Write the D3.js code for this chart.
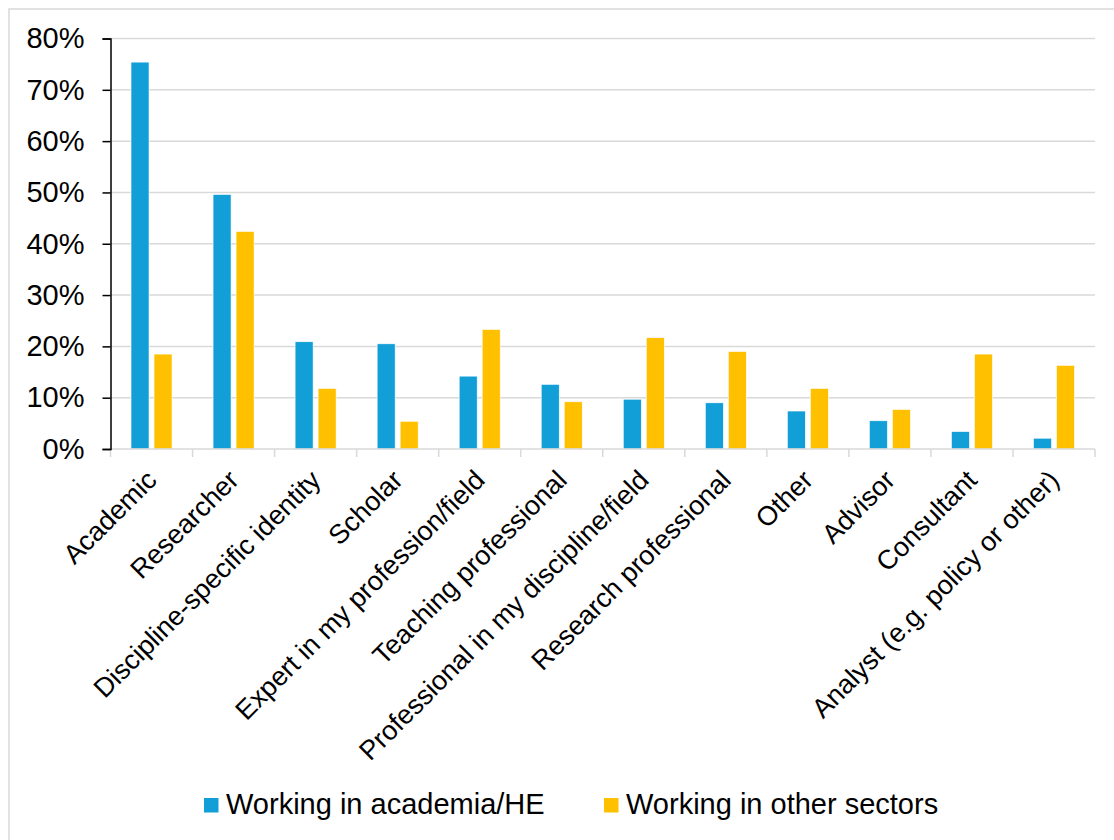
<!DOCTYPE html>
<html>
<head>
<meta charset="utf-8">
<script src="https://cdn.jsdelivr.net/npm/d3@7"></script>
<style>
  html, body { margin: 0; padding: 0; background: #ffffff; }
  svg { display: block; font-family: "Liberation Sans", Arial, sans-serif; }
</style>
</head>
<body>
<svg id="chart" width="1114" height="840"></svg>
<script>
// Professional identity by sector (% of respondents)
const categories = [
  "Academic",
  "Researcher",
  "Discipline-specific identity",
  "Scholar",
  "Expert in my profession/field",
  "Teaching professional",
  "Professional in my discipline/field",
  "Research professional",
  "Other",
  "Advisor",
  "Consultant",
  "Analyst (e.g. policy or other)"
];
const seriesNames = ["Working in academia/HE", "Working in other sectors"];
const academiaValues = [75.4, 49.6, 20.9, 20.5, 14.2, 12.6, 9.7, 9.0, 7.4, 5.5, 3.4, 2.1];
const otherValues    = [18.5, 42.4, 11.8, 5.4, 23.3, 9.2, 21.7, 19.0, 11.8, 7.7, 18.5, 16.3];
const yTicks = [0, 10, 20, 30, 40, 50, 60, 70, 80];

const colors = ["#129FD7", "#FFC000"];
const seriesValues = [academiaValues, otherValues];

const svg = d3.select("#chart");

// outer chart frame
svg.append("rect")
  .attr("x", 9).attr("y", 9)
  .attr("width", 1300).attr("height", 1000)
  .attr("fill", "none")
  .attr("stroke", "#d9d9d9")
  .attr("stroke-width", 1.5);

const plot = { left: 110.5, right: 1095, top: 38.5, bottom: 449 };

const x0 = d3.scaleBand()
  .domain(categories)
  .range([plot.left, plot.right])
  .paddingInner(0).paddingOuter(0);

const bw = x0.bandwidth();
const x1 = d3.scaleBand()
  .domain(seriesNames)
  .range([bw * 0.25, bw * 0.75])
  .paddingInner(5 / 23).paddingOuter(0);

const y = d3.scaleLinear()
  .domain([0, 80])
  .range([plot.bottom, plot.top]);

// horizontal gridlines
svg.append("g")
  .selectAll("line")
  .data(yTicks.filter(d => d > 0))
  .join("line")
  .attr("x1", plot.left).attr("x2", plot.right)
  .attr("y1", d => y(d)).attr("y2", d => y(d))
  .attr("stroke", "#d9d9d9")
  .attr("stroke-width", 1.5);

// bars
const rows = categories.map((c, i) => ({
  category: c,
  values: seriesNames.map((s, j) => ({ series: s, value: seriesValues[j][i], color: colors[j] }))
}));

const groups = svg.append("g")
  .selectAll("g")
  .data(rows)
  .join("g")
  .attr("transform", d => `translate(${x0(d.category)},0)`);

groups.selectAll("rect")
  .data(d => d.values)
  .join("rect")
  .attr("x", d => x1(d.series))
  .attr("width", x1.bandwidth())
  .attr("y", d => y(d.value))
  .attr("height", d => y(0) - y(d.value))
  .attr("fill", d => d.color)
  .attr("stroke", "#ffffff")
  .attr("stroke-width", 0.6);

// x axis: category boundary ticks and baseline
const xAxisG = svg.append("g");
xAxisG.append("line")
  .attr("x1", plot.left).attr("x2", plot.right)
  .attr("y1", y(0)).attr("y2", y(0))
  .attr("stroke", "#d9d9d9").attr("stroke-width", 1.5);
const boundaries = categories.map(c => x0(c)).concat([plot.right]);
xAxisG.selectAll("line.tick")
  .data(boundaries)
  .join("line")
  .attr("class", "tick")
  .attr("x1", d => d).attr("x2", d => d)
  .attr("y1", y(0)).attr("y2", y(0) + 8)
  .attr("stroke", "#d9d9d9").attr("stroke-width", 1.5);

// rotated category labels
xAxisG.selectAll("text")
  .data(categories)
  .join("text")
  .attr("transform", d => `translate(${x0(d) + bw / 2},${y(0) + 26}) rotate(-45)`)
  .attr("text-anchor", "end")
  .attr("dy", "0.35em")
  .attr("font-size", 27)
  .attr("fill", "#000000")
  .text(d => d);

// y axis
const yAxis = d3.axisLeft(y)
  .tickValues(yTicks)
  .tickSize(8)
  .tickPadding(18)
  .tickFormat(d => d + "%");

const yAxisG = svg.append("g")
  .attr("transform", `translate(${plot.left},0)`)
  .call(yAxis);
yAxisG.select(".domain").attr("stroke", "#000000").attr("stroke-width", 1.5);
yAxisG.selectAll(".tick line").attr("stroke", "#000000").attr("stroke-width", 1.5);
yAxisG.selectAll(".tick text")
  .attr("font-size", 29)
  .attr("font-family", "Liberation Sans, Arial, sans-serif")
  .attr("fill", "#000000");

// legend
const legendItems = [
  { name: seriesNames[0], color: colors[0], x: 204 },
  { name: seriesNames[1], color: colors[1], x: 604 }
];
const legend = svg.append("g");
const li = legend.selectAll("g")
  .data(legendItems)
  .join("g")
  .attr("transform", d => `translate(${d.x},798)`);
li.append("rect")
  .attr("width", 14.5).attr("height", 14.5)
  .attr("fill", d => d.color);
li.append("text")
  .attr("x", 22)
  .attr("y", 15.5)
  .attr("font-size", 29)
  .attr("fill", "#000000")
  .text(d => d.name);
</script>
</body>
</html>
